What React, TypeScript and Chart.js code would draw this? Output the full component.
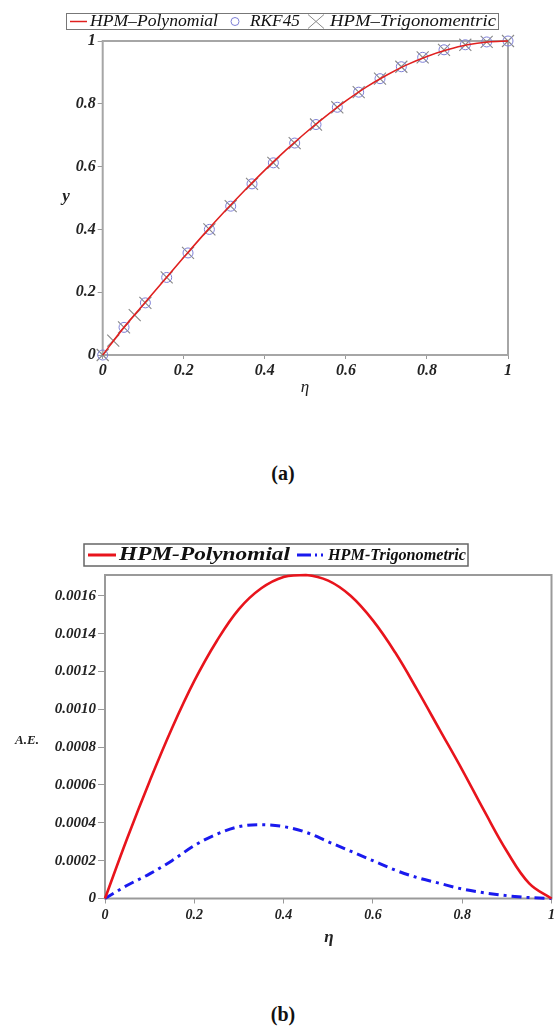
import React, { useEffect, useRef } from "react";
import { Chart, registerables } from "chart.js";
Chart.register(...registerables);

const FONT = "'Liberation Serif', 'Times New Roman', serif";

// ---------- Panel (a) data ----------
const polyEta = [0, 0.05, 0.1, 0.15, 0.2, 0.25, 0.3, 0.35, 0.4, 0.45, 0.5, 0.55, 0.6, 0.65, 0.7, 0.75, 0.8, 0.85, 0.9, 0.95, 1];
const polyY = [0, 0.084, 0.16, 0.236, 0.311, 0.385, 0.456, 0.524, 0.589, 0.65, 0.707, 0.76, 0.809, 0.853, 0.891, 0.924, 0.951, 0.972, 0.988, 0.997, 1];
const rkfEta = [0, 0.0526, 0.1053, 0.1579, 0.2105, 0.2632, 0.3158, 0.3684, 0.4211, 0.4737, 0.5263, 0.5789, 0.6316, 0.6842, 0.7368, 0.7895, 0.8421, 0.8947, 0.9474, 1];
const rkfY = [0, 0.088, 0.166, 0.247, 0.325, 0.4, 0.474, 0.545, 0.612, 0.675, 0.734, 0.789, 0.837, 0.88, 0.918, 0.948, 0.972, 0.988, 0.997, 1];
const trigEta = [0, 0.026, 0.0526, 0.079, 0.1053, 0.1579, 0.2105, 0.2632, 0.3158, 0.3684, 0.4211, 0.4737, 0.5263, 0.5789, 0.6316, 0.6842, 0.7368, 0.7895, 0.8421, 0.8947, 0.9474, 1];
const trigY = [0, 0.046, 0.088, 0.127, 0.166, 0.247, 0.325, 0.4, 0.474, 0.545, 0.612, 0.675, 0.734, 0.789, 0.837, 0.88, 0.918, 0.948, 0.972, 0.988, 0.997, 1];
const ticksA = [0, 0.2, 0.4, 0.6, 0.8, 1];

// ---------- Panel (b) data ----------
const aeEta = [0, 0.05, 0.1, 0.15, 0.2, 0.25, 0.3, 0.35, 0.4, 0.45, 0.5, 0.55, 0.6, 0.65, 0.7, 0.75, 0.8, 0.85, 0.9, 0.95, 1];
const aePoly = [0, 0.00032, 0.00062, 0.0009, 0.00115, 0.00136, 0.00153, 0.00164, 0.0017, 0.00171, 0.00168, 0.0016, 0.00147, 0.0013, 0.0011, 0.00089, 0.00068, 0.00046, 0.00025, 0.00008, 0];
const aeTrig = [0, 0.00007, 0.00013, 0.0002, 0.00028, 0.00034, 0.00038, 0.00039, 0.00038, 0.00035, 0.0003, 0.00025, 0.0002, 0.00015, 0.00011, 0.00008, 0.00005, 0.00003, 0.000015, 0.000005, 0];
const aeXTicks = [0, 0.2, 0.4, 0.6, 0.8, 1];
const aeYTicks = [0, 0.0002, 0.0004, 0.0006, 0.0008, 0.001, 0.0012, 0.0014, 0.0016];
const aeYMax = 0.00171;

const zip = (xs: number[], ys: number[]) => xs.map((x, i) => ({ x, y: ys[i] }));

// draws text with a fixed font, stretched horizontally to the given width
function drawText(ctx: CanvasRenderingContext2D, text: string, x: number, y: number, w: number, font: string, color = "#111") {
  ctx.save();
  ctx.font = font;
  const m = ctx.measureText(text).width;
  ctx.fillStyle = color;
  ctx.textAlign = "left";
  ctx.textBaseline = "middle";
  ctx.translate(x, y);
  ctx.scale(w / m, 1);
  ctx.fillText(text, 0, 0);
  ctx.restore();
}

function framePlugin(color: string, lw: number) {
  return {
    id: "frame",
    beforeDatasetsDraw(chart: any) {
      const { ctx, chartArea: a } = chart;
      ctx.save();
      ctx.strokeStyle = color;
      ctx.lineWidth = lw;
      ctx.strokeRect(a.left, a.top, a.right - a.left, a.bottom - a.top);
      ctx.restore();
    },
  };
}

const decorA = {
  id: "decorA",
  afterDraw(chart: any) {
    const ctx: CanvasRenderingContext2D = chart.ctx;
    ctx.save();
    ctx.strokeStyle = "#777";
    ctx.lineWidth = 1;
    ctx.strokeRect(66.5, 13.5, 432, 16);
    ctx.strokeStyle = "#e0201f";
    ctx.lineWidth = 1.5;
    ctx.beginPath();
    ctx.moveTo(70, 21.5);
    ctx.lineTo(87, 21.5);
    ctx.stroke();
    const f = `italic 17.5px ${FONT}`;
    drawText(ctx, "HPM\u2013Polynomial", 90, 21.5, 128, f);
    ctx.strokeStyle = "#7d7fd6";
    ctx.lineWidth = 1;
    ctx.beginPath();
    ctx.arc(235, 21.5, 4, 0, Math.PI * 2);
    ctx.stroke();
    drawText(ctx, "RKF45", 250, 21.5, 50, f);
    ctx.strokeStyle = "#8a8a8a";
    ctx.beginPath();
    ctx.moveTo(308, 14.5);
    ctx.lineTo(324, 28.5);
    ctx.moveTo(308, 28.5);
    ctx.lineTo(324, 14.5);
    ctx.stroke();
    drawText(ctx, "HPM\u2013Trigonomentric", 330, 21.5, 166, f);
    ctx.font = `italic bold 17px ${FONT}`;
    ctx.fillStyle = "#222";
    ctx.textAlign = "center";
    ctx.textBaseline = "middle";
    ctx.fillText("y", 66, 197);
    ctx.font = `italic 17px ${FONT}`;
    ctx.fillText("\u03b7", 305, 388);
    ctx.restore();
  },
};

const decorB = {
  id: "decorB",
  afterDraw(chart: any) {
    const ctx: CanvasRenderingContext2D = chart.ctx;
    ctx.save();
    ctx.strokeStyle = "#666";
    ctx.lineWidth = 1.5;
    ctx.strokeRect(84, 14, 384, 22);
    ctx.strokeStyle = "#e8141c";
    ctx.lineWidth = 3;
    ctx.beginPath();
    ctx.moveTo(88, 25);
    ctx.lineTo(116, 25);
    ctx.stroke();
    drawText(ctx, "HPM-Polynomial", 119, 25.5, 171, `italic bold 18px ${FONT}`);
    ctx.strokeStyle = "#1a1aee";
    ctx.lineWidth = 3;
    ctx.setLineDash([14, 4, 2, 4, 2, 4]);
    ctx.beginPath();
    ctx.moveTo(297, 25);
    ctx.lineTo(327, 25);
    ctx.stroke();
    ctx.setLineDash([]);
    drawText(ctx, "HPM-Trigonometric", 328, 25.5, 138, `italic bold 17px ${FONT}`);
    ctx.font = `italic bold 13px ${FONT}`;
    ctx.fillStyle = "#222";
    ctx.textAlign = "center";
    ctx.textBaseline = "middle";
    ctx.fillText("A.E.", 27, 211);
    ctx.font = `italic bold 17px ${FONT}`;
    ctx.fillText("\u03b7", 329, 408);
    ctx.restore();
  },
};

function setTicks(arr: number[]) {
  return (scale: any) => {
    scale.ticks = arr.map((v) => ({ value: v }));
  };
}

function PanelA() {
  const ref = useRef<HTMLCanvasElement>(null);
  useEffect(() => {
    const chart = new Chart(ref.current!, {
      type: "scatter",
      data: {
        datasets: [
          {
            label: "HPM-Polynomial",
            data: zip(polyEta, polyY),
            showLine: true,
            borderColor: "#e0201f",
            borderWidth: 1.6,
            pointRadius: 0,
            cubicInterpolationMode: "monotone",
            clip: false,
          },
          {
            label: "RKF45",
            data: zip(rkfEta, rkfY),
            showLine: false,
            pointStyle: "circle",
            pointRadius: 5,
            borderColor: "#7d7fd6",
            backgroundColor: "rgba(0,0,0,0)",
            borderWidth: 1,
            clip: false,
          },
          {
            label: "HPM-Trigonomentric",
            data: zip(trigEta, trigY),
            showLine: false,
            pointStyle: "crossRot",
            pointRadius: 8.5,
            borderColor: "#888888",
            borderWidth: 1.1,
            clip: false,
          },
        ],
      } as any,
      options: {
        animation: false,
        responsive: false,
        events: [],
        layout: { padding: { top: 41, right: 46, left: 0, bottom: 0 } },
        plugins: { legend: { display: false }, tooltip: { enabled: false } },
        scales: {
          x: {
            type: "linear",
            min: 0,
            max: 1,
            afterFit: (s: any) => { s.height = 85; },
            afterBuildTicks: setTicks(ticksA),
            border: { display: false },
            grid: { drawOnChartArea: false, drawTicks: true, tickLength: 4, color: "#999" },
            ticks: {
              padding: 2,
              color: "#222",
              font: { family: FONT, size: 16, style: "italic", weight: "bold" },
              callback: (v: any) => (v === 0 ? "0" : v === 1 ? "1" : Number(v).toFixed(1)),
            },
          },
          y: {
            type: "linear",
            min: 0,
            max: 1,
            afterFit: (s: any) => { s.width = 102.7; },
            afterBuildTicks: setTicks(ticksA),
            border: { display: false },
            grid: { drawOnChartArea: false, drawTicks: true, tickLength: 5, color: "#999" },
            ticks: {
              padding: 2,
              color: "#222",
              font: { family: FONT, size: 16, style: "italic", weight: "bold" },
              callback: (v: any) => (v === 0 ? "0" : v === 1 ? "1" : Number(v).toFixed(1)),
            },
          },
        },
      } as any,
      plugins: [framePlugin("#a6a6a6", 2), decorA],
    });
    return () => chart.destroy();
  }, []);
  return <canvas ref={ref} width={554} height={440} style={{ position: "absolute", left: 0, top: 0 }} />;
}

function PanelB() {
  const ref = useRef<HTMLCanvasElement>(null);
  useEffect(() => {
    const chart = new Chart(ref.current!, {
      type: "scatter",
      data: {
        datasets: [
          {
            label: "HPM-Polynomial",
            data: zip(aeEta, aePoly),
            showLine: true,
            borderColor: "#e8141c",
            borderWidth: 2.6,
            pointRadius: 0,
            tension: 0.4,
            clip: false,
          },
          {
            label: "HPM-Trigonometric",
            data: zip(aeEta, aeTrig),
            showLine: true,
            borderColor: "#1a1aee",
            borderWidth: 3,
            borderDash: [10, 5, 3, 5],
            pointRadius: 0,
            cubicInterpolationMode: "monotone",
            clip: false,
          },
        ],
      } as any,
      options: {
        animation: false,
        responsive: false,
        events: [],
        layout: { padding: { top: 45, right: 18.5, left: 0, bottom: 0 } },
        plugins: { legend: { display: false }, tooltip: { enabled: false } },
        scales: {
          x: {
            type: "linear",
            min: 0,
            max: 1,
            afterFit: (s: any) => { s.height = 61.5; },
            afterBuildTicks: setTicks(aeXTicks),
            border: { display: false },
            grid: { drawOnChartArea: false, drawTicks: true, tickLength: 5, color: "#999" },
            ticks: {
              padding: 3,
              color: "#222",
              font: { family: FONT, size: 14, style: "italic", weight: "bold" },
              callback: (v: any) => (v === 0 ? "0" : v === 1 ? "1" : Number(v).toFixed(1)),
            },
          },
          y: {
            type: "linear",
            min: 0,
            max: aeYMax,
            afterFit: (s: any) => { s.width = 105; },
            afterBuildTicks: setTicks(aeYTicks),
            border: { display: false },
            grid: { drawOnChartArea: false, drawTicks: true, tickLength: 7, color: "#999" },
            ticks: {
              padding: 2,
              color: "#222",
              font: { family: FONT, size: 15, style: "italic", weight: "bold" },
              callback: (v: any) => (v === 0 ? "0" : Number(v).toFixed(4)),
            },
          },
        },
      } as any,
      plugins: [framePlugin("#9a9a9a", 2), decorB],
    });
    return () => chart.destroy();
  }, []);
  return <canvas ref={ref} width={570} height={430} style={{ position: "absolute", left: 0, top: 530 }} />;
}

export default function App() {
  const cap: React.CSSProperties = {
    position: "absolute",
    left: 0,
    width: 566,
    textAlign: "center",
    fontFamily: FONT,
    fontWeight: "bold",
    fontSize: 20,
    lineHeight: "20px",
    color: "#111",
  };
  return (
    <div style={{ position: "absolute", left: 0, top: 0, width: 554, height: 1032, overflow: "hidden", background: "#fff" }}>
      <PanelA />
      <div style={{ ...cap, top: 463 }}>(a)</div>
      <PanelB />
      <div style={{ ...cap, top: 1004 }}>(b)</div>
    </div>
  );
}
